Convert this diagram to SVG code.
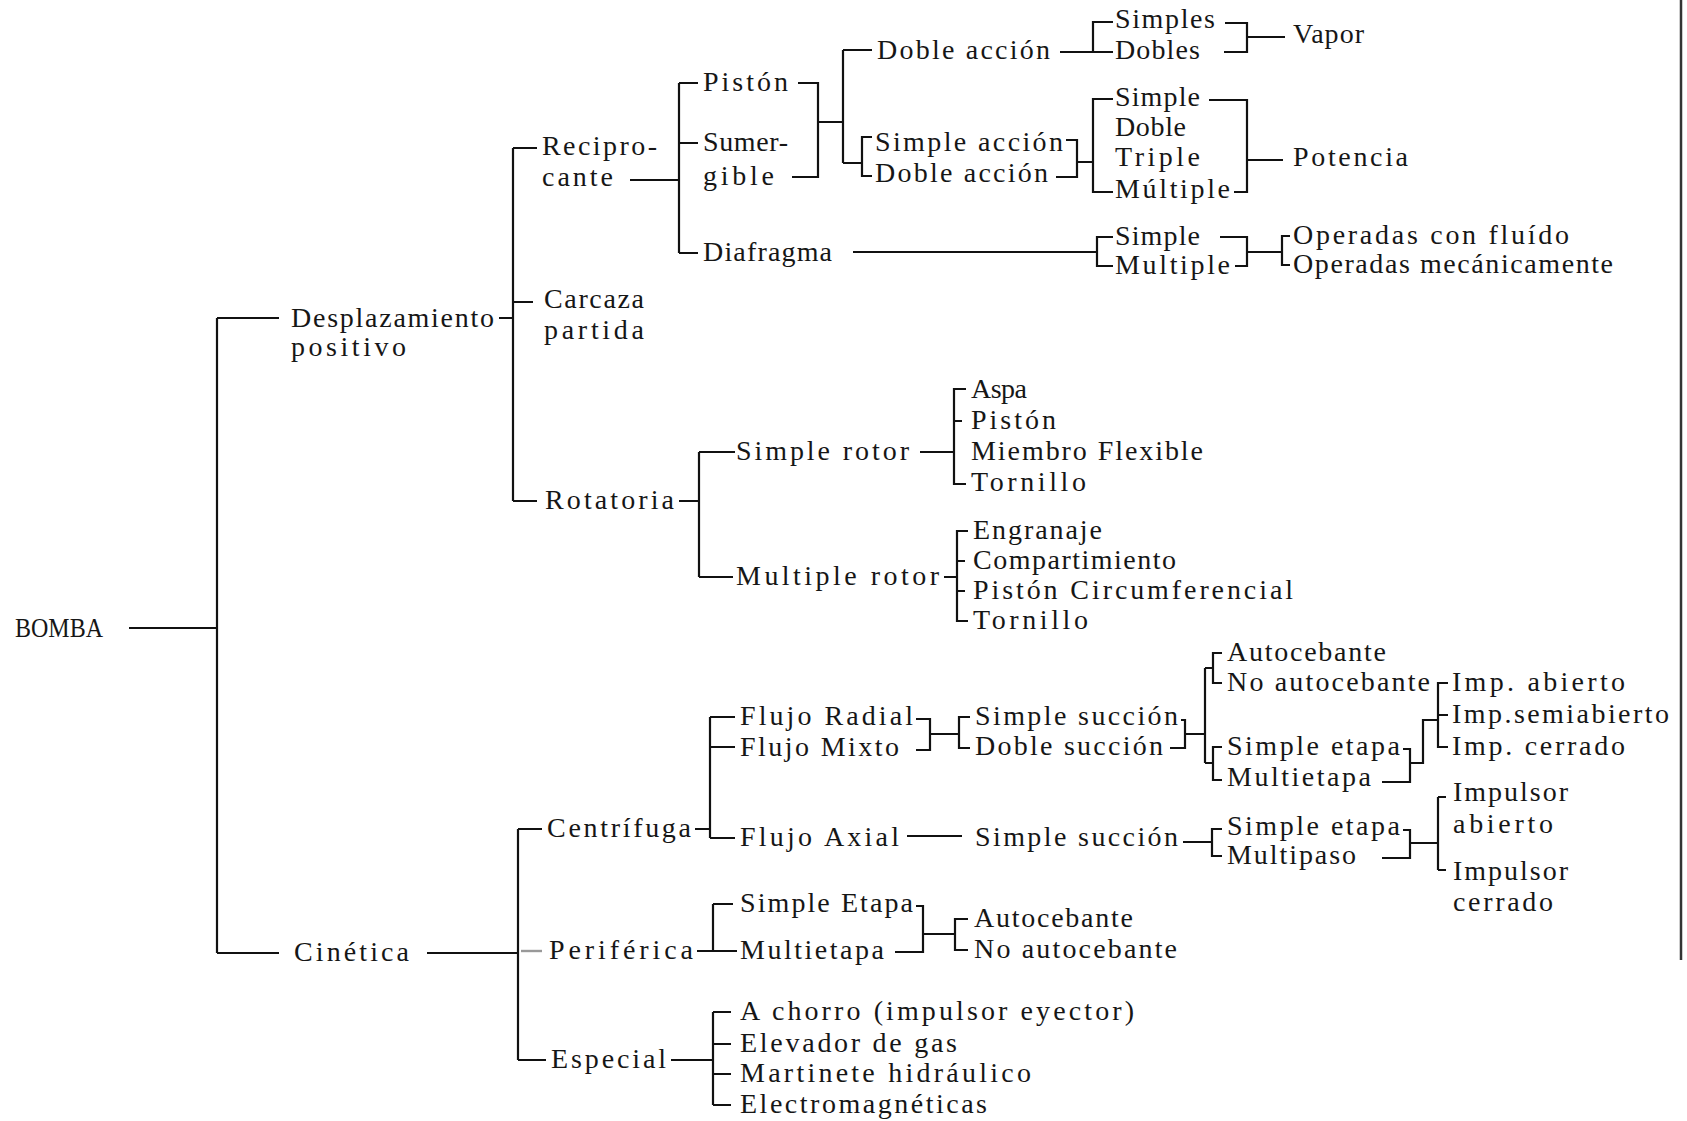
<svg xmlns="http://www.w3.org/2000/svg" width="1687" height="1121" viewBox="0 0 1687 1121">
<style>
text{font-family:"Liberation Serif","Times New Roman",serif;font-size:28px;fill:#161616}
.c{fill:none;stroke:#111;stroke-width:2.2}
.g{fill:none;stroke:#999;stroke-width:2.4}
.edge{fill:none;stroke:#333;stroke-width:2.5}
</style>
<rect width="1687" height="1121" fill="#fff"/>
<g id="connectors">
<path class="c" d="M129 628H217M217 318V953M217 318H279M217 953H279"/>
<path class="c" d="M499 318H513M513 148V501M513 148H537M513 302H533M513 501H537"/>
<path class="c" d="M630 180H679M679 83V253M679 83H698M679 143H698M679 253H698"/>
<path class="c" d="M798 83H818V177H792M818 122H843M843 50V163M843 50H872M843 163H862M872 137H862V176H872"/>
<path class="c" d="M1066 140H1077V177H1056M1077 162H1093M1113 99H1093V192H1113M1209 100H1247V192H1234M1247 160H1283"/>
<path class="c" d="M1060 52H1113M1093 52V22H1113M1225 23H1247V52H1224M1247 37H1285"/>
<path class="c" d="M853 252H1097M1113 237H1097V266H1113M1220 237H1247V266H1235M1247 252H1282M1290 236H1282V265H1290"/>
<path class="c" d="M679 501H699M699 452V577M699 452H735M699 577H733M920 452H954M966 389H954V484H966M954 421H962M944 577H957M968 531H957V621H968M957 561H965M957 591H965"/>
<path class="c" d="M427 953H518M518 829V1060M518 829H542M518 1060H546"/>
<path class="g" d="M521 951H542"/>
<path class="c" d="M695 829H710M710 717V838M710 717H735M710 747H735M710 838H735"/>
<path class="c" d="M916 719H930V750H916M930 734H959M970 717H959V748H970"/>
<path class="c" d="M1181 720H1185V748H1170M1185 734H1205M1205 668V763M1222 653H1213V683H1222M1205 668H1213M1222 747H1213V780H1222M1205 763H1213"/>
<path class="c" d="M1403 749H1410V782H1382M1410 763H1423V720H1438M1448 683H1438V747H1448M1438 715H1448"/>
<path class="c" d="M907 836H962M1183 842H1212M1222 829H1212V856H1222M1403 830H1410V858H1382M1410 843H1438M1438 797V870M1438 797H1446M1438 870H1446"/>
<path class="c" d="M697 951H737M713 904V951M713 904H733M916 906H923V952H895M923 934H955M968 919H955V950H968"/>
<path class="c" d="M671 1060H713M713 1012V1105M713 1012H731M713 1044H731M713 1074H731M713 1105H731"/>
<path class="edge" d="M1681 0V960"/>
</g>
<g id="bomba"><text x="15" y="637" font-size="25" textLength="88" lengthAdjust="spacingAndGlyphs">BOMBA</text></g>
<g id="desplazamiento"><text x="291" y="327" textLength="203" lengthAdjust="spacing">Desplazamiento</text><text x="291" y="356" textLength="115" lengthAdjust="spacing">positivo</text></g>
<g id="cinetica"><text x="294" y="961" textLength="115" lengthAdjust="spacing">Cinética</text></g>
<g id="reciprocante"><text x="542" y="155" textLength="115" lengthAdjust="spacing">Recipro-</text><text x="542" y="186" textLength="71" lengthAdjust="spacing">cante</text></g>
<g id="carcaza"><text x="544" y="308" textLength="100" lengthAdjust="spacing">Carcaza</text><text x="544" y="339" textLength="100" lengthAdjust="spacing">partida</text></g>
<g id="rotatoria"><text x="545" y="509" textLength="129" lengthAdjust="spacing">Rotatoria</text></g>
<g id="piston"><text x="703" y="91" textLength="85" lengthAdjust="spacing">Pistón</text></g>
<g id="sumergible"><text x="703" y="151" textLength="85" lengthAdjust="spacing">Sumer-</text><text x="703" y="185" textLength="71" lengthAdjust="spacing">gible</text></g>
<g id="diafragma"><text x="703" y="261" textLength="129" lengthAdjust="spacing">Diafragma</text></g>
<g id="doble-accion-1"><text x="877" y="59" textLength="173" lengthAdjust="spacing">Doble acción</text></g>
<g id="simple-accion"><text x="875" y="151" textLength="188" lengthAdjust="spacing">Simple acción</text></g>
<g id="doble-accion-2"><text x="875" y="182" textLength="173" lengthAdjust="spacing">Doble acción</text></g>
<g id="simples"><text x="1115" y="28" textLength="100" lengthAdjust="spacing">Simples</text></g>
<g id="dobles"><text x="1115" y="59" textLength="85" lengthAdjust="spacing">Dobles</text></g>
<g id="vapor"><text x="1293" y="43" textLength="71" lengthAdjust="spacing">Vapor</text></g>
<g id="simple-1"><text x="1115" y="106" textLength="85" lengthAdjust="spacing">Simple</text></g>
<g id="doble"><text x="1115" y="136" textLength="71" lengthAdjust="spacing">Doble</text></g>
<g id="triple"><text x="1115" y="166" textLength="85" lengthAdjust="spacing">Triple</text></g>
<g id="multiple-1"><text x="1115" y="198" textLength="115" lengthAdjust="spacing">Múltiple</text></g>
<g id="potencia"><text x="1293" y="166" textLength="115" lengthAdjust="spacing">Potencia</text></g>
<g id="simple-2"><text x="1115" y="245" textLength="85" lengthAdjust="spacing">Simple</text></g>
<g id="multiple-2"><text x="1115" y="274" textLength="115" lengthAdjust="spacing">Multiple</text></g>
<g id="operadas-fluido"><text x="1293" y="244" textLength="276" lengthAdjust="spacing">Operadas con fluído</text></g>
<g id="operadas-mec"><text x="1293" y="273" textLength="320" lengthAdjust="spacing">Operadas mecánicamente</text></g>
<g id="simple-rotor"><text x="736" y="460" textLength="173" lengthAdjust="spacing">Simple rotor</text></g>
<g id="multiple-rotor"><text x="736" y="585" textLength="203" lengthAdjust="spacing">Multiple rotor</text></g>
<g id="aspa"><text x="971" y="398" textLength="56" lengthAdjust="spacing">Aspa</text></g>
<g id="piston-2"><text x="971" y="429" textLength="85" lengthAdjust="spacing">Pistón</text></g>
<g id="miembro"><text x="971" y="460" textLength="232" lengthAdjust="spacing">Miembro Flexible</text></g>
<g id="tornillo-1"><text x="971" y="491" textLength="115" lengthAdjust="spacing">Tornillo</text></g>
<g id="engranaje"><text x="973" y="539" textLength="129" lengthAdjust="spacing">Engranaje</text></g>
<g id="compartimiento"><text x="973" y="569" textLength="203" lengthAdjust="spacing">Compartimiento</text></g>
<g id="piston-circ"><text x="973" y="599" textLength="320" lengthAdjust="spacing">Pistón Circumferencial</text></g>
<g id="tornillo-2"><text x="973" y="629" textLength="115" lengthAdjust="spacing">Tornillo</text></g>
<g id="centrifuga"><text x="547" y="837" textLength="144" lengthAdjust="spacing">Centrífuga</text></g>
<g id="periferica"><text x="549" y="959" textLength="144" lengthAdjust="spacing">Periférica</text></g>
<g id="especial"><text x="551" y="1068" textLength="115" lengthAdjust="spacing">Especial</text></g>
<g id="flujo-radial"><text x="740" y="725" textLength="173" lengthAdjust="spacing">Flujo Radial</text></g>
<g id="flujo-mixto"><text x="740" y="756" textLength="159" lengthAdjust="spacing">Flujo Mixto</text></g>
<g id="flujo-axial"><text x="740" y="846" textLength="159" lengthAdjust="spacing">Flujo Axial</text></g>
<g id="simple-succion-1"><text x="975" y="725" textLength="203" lengthAdjust="spacing">Simple succión</text></g>
<g id="doble-succion"><text x="975" y="755" textLength="188" lengthAdjust="spacing">Doble succión</text></g>
<g id="simple-succion-2"><text x="975" y="846" textLength="203" lengthAdjust="spacing">Simple succión</text></g>
<g id="autocebante-1"><text x="1227" y="661" textLength="159" lengthAdjust="spacing">Autocebante</text></g>
<g id="no-autocebante-1"><text x="1227" y="691" textLength="203" lengthAdjust="spacing">No autocebante</text></g>
<g id="simple-etapa-1"><text x="1227" y="755" textLength="173" lengthAdjust="spacing">Simple etapa</text></g>
<g id="multietapa-1"><text x="1227" y="786" textLength="144" lengthAdjust="spacing">Multietapa</text></g>
<g id="imp-abierto"><text x="1452" y="691" textLength="173" lengthAdjust="spacing">Imp. abierto</text></g>
<g id="imp-semiabierto"><text x="1452" y="723" textLength="217" lengthAdjust="spacing">Imp.semiabierto</text></g>
<g id="imp-cerrado"><text x="1452" y="755" textLength="173" lengthAdjust="spacing">Imp. cerrado</text></g>
<g id="simple-etapa-2"><text x="1227" y="835" textLength="173" lengthAdjust="spacing">Simple etapa</text></g>
<g id="multipaso"><text x="1227" y="864" textLength="129" lengthAdjust="spacing">Multipaso</text></g>
<g id="impulsor-abierto"><text x="1453" y="801" textLength="115" lengthAdjust="spacing">Impulsor</text><text x="1453" y="833" textLength="100" lengthAdjust="spacing">abierto</text></g>
<g id="impulsor-cerrado"><text x="1453" y="880" textLength="115" lengthAdjust="spacing">Impulsor</text><text x="1453" y="911" textLength="100" lengthAdjust="spacing">cerrado</text></g>
<g id="simple-etapa-3"><text x="740" y="912" textLength="173" lengthAdjust="spacing">Simple Etapa</text></g>
<g id="multietapa-2"><text x="740" y="959" textLength="144" lengthAdjust="spacing">Multietapa</text></g>
<g id="autocebante-2"><text x="974" y="927" textLength="159" lengthAdjust="spacing">Autocebante</text></g>
<g id="no-autocebante-2"><text x="974" y="958" textLength="203" lengthAdjust="spacing">No autocebante</text></g>
<g id="a-chorro"><text x="740" y="1020" textLength="394" lengthAdjust="spacing">A chorro (impulsor eyector)</text></g>
<g id="elevador"><text x="740" y="1052" textLength="217" lengthAdjust="spacing">Elevador de gas</text></g>
<g id="martinete"><text x="740" y="1082" textLength="291" lengthAdjust="spacing">Martinete hidráulico</text></g>
<g id="electromagneticas"><text x="740" y="1113" textLength="247" lengthAdjust="spacing">Electromagnéticas</text></g>
</svg>
